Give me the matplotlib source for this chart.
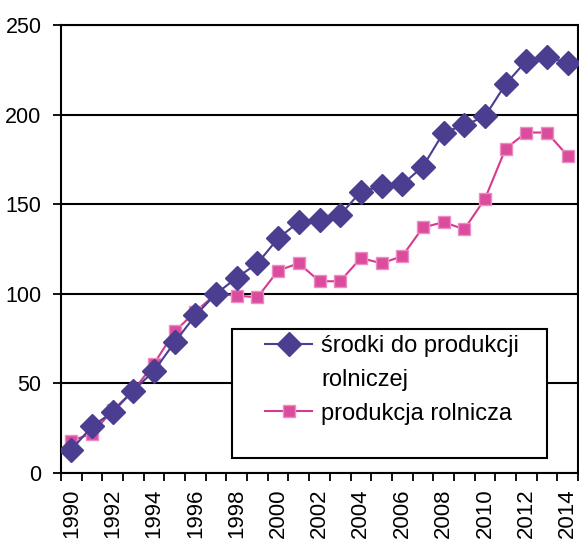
import numpy as np
import matplotlib.pyplot as plt
from matplotlib.patches import Rectangle

years = list(range(1990, 2015))
srodki = [13, 26, 34, 46, 57, 73, 88, 100, 109, 117, 131, 140, 141, 144, 157,
          160, 161, 171, 190, 194, 199, 217, 230, 232, 229]
produkcja = [18, 22, 35, 46, 61, 79, 90, 100, 99, 98, 113, 117, 107, 107, 120,
             117, 121, 137, 140, 136, 153, 181, 190, 190, 177]
yticks = [0, 50, 100, 150, 200, 250]

plt.rcParams['font.family'] = ['Liberation Sans', 'DejaVu Sans']

fig = plt.figure(figsize=(5.79, 5.42), dpi=100)
ax = fig.add_axes([61 / 579, 69 / 542, 517 / 579, 448 / 542])

x = np.arange(len(years))
ax.plot(x, srodki, color='#4b3d8f', lw=1.5, marker='D', ms=12,
        mfc='#4b3d8f', mec='#4b3d8f', label='środki do produkcji', zorder=4)
# second line of the first legend label, kept as its own row
ax.plot([], [], color='none', label='rolniczej')
ax.plot(x, produkcja, color='#d63a8e', lw=1.5, marker='s', ms=8,
        mfc='#dc4c9c', mec='#ec8cc4', label='produkcja rolnicza', zorder=3)

ax.set_ylim(0, 250)
ax.set_yticks(yticks)
ax.set_yticklabels([str(v) for v in yticks], fontsize=15.5)
ax.yaxis.grid(True, color='black', lw=1.5)
ax.set_axisbelow(True)

ax.set_xlim(-0.5, len(years) - 0.5)
ax.set_xticks(np.arange(-0.5, len(years), 1))
ax.set_xticklabels([])
ax.set_xticks(x[::2], minor=True)
ax.set_xticklabels([str(y) for y in years[::2]], minor=True, rotation=90,
                   fontsize=16, va='top')
ax.tick_params(axis='x', which='minor', length=0, pad=11)
ax.tick_params(axis='x', which='major', length=6, width=1.3, direction='out')
ax.tick_params(axis='y', length=6, width=1.3, pad=8)

for s in ax.spines.values():
    s.set_linewidth(1.5)
    s.set_color('black')

# legend frame like the original (wide side padding, extra space below)
box = Rectangle((232 / 579, 1 - 458 / 542), 315 / 579, 129 / 542,
                transform=fig.transFigure, facecolor='white',
                edgecolor='black', lw=1.5, zorder=5, clip_on=False)
ax.add_patch(box)

leg = ax.legend(loc='upper left', bbox_to_anchor=(265 / 579, 1 - 335 / 542),
                bbox_transform=fig.transFigure, fontsize=17, frameon=False,
                handlelength=2.0, handletextpad=0.38, borderpad=0,
                labelspacing=0.5, borderaxespad=0)
leg.set_zorder(6)

fig.savefig('out.png', dpi=100)
